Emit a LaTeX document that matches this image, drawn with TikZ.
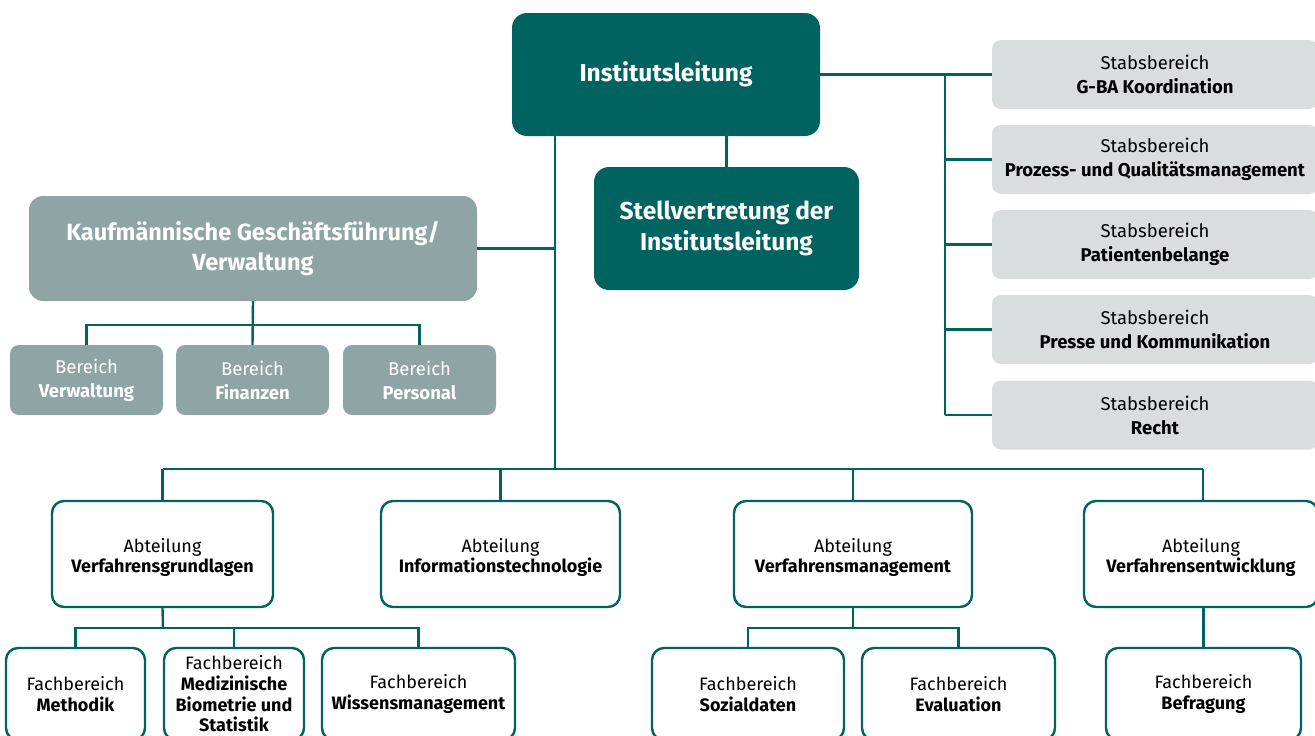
\documentclass[tikz,border=0pt]{standalone}
\usepackage{fontspec}
\setmainfont{Fira Sans}
\definecolor{tealA}{HTML}{00635F}
\definecolor{grayA}{HTML}{8FA4A5}
\definecolor{grayB}{HTML}{D9DDDD}
\tikzset{
  conn/.style={draw=tealA, line width=2.4pt},
  darkbox/.style={fill=tealA, text=white, rounded corners=15pt, align=center, inner sep=0pt,
    font=\bfseries\fontsize{24.5}{31}\selectfont},
  midbox/.style={fill=grayA, text=white, rounded corners=14pt, align=center, inner sep=0pt,
    font=\bfseries\fontsize{23.5}{30}\selectfont},
  smallgray/.style={fill=grayA, text=white, rounded corners=9pt, align=center, inner sep=0pt,
    font=\fontsize{18.5}{24}\selectfont, minimum width=153pt, minimum height=70pt},
  stabbox/.style={fill=grayB, text=black, rounded corners=9pt, align=center, inner sep=0pt,
    font=\fontsize{18.5}{24}\selectfont, minimum width=326pt, minimum height=69pt},
  whitebox/.style={fill=white, draw=tealA, line width=2.4pt, text=black, rounded corners=12pt,
    align=center, inner sep=0pt, font=\fontsize{18}{20.7}\selectfont},
}
\newcommand{\lowstrut}{\rule{0pt}{21pt}}
\begin{document}
\begin{tikzpicture}[x=1pt,y=-1pt]
\useasboundingbox (0,0) rectangle (1315,736);
\clip (0,0) rectangle (1315,736);
% top
\node[darkbox, minimum width=308pt, minimum height=123pt] (inst) at (666,74.5) {Institutsleitung};
\node[darkbox, minimum width=265pt, minimum height=123pt] (stv) at (726.5,228.5) {Stellvertretung der\\Institutsleitung};
\node[midbox, minimum width=448pt, minimum height=105pt] (kfm) at (253,248.5) {Kaufmännische Geschäftsführung/\\Verwaltung};
% Bereiche
\node[smallgray] (bv) at (86.5,380) {Bereich\\\textbf{Verwaltung}};
\node[smallgray] (bf) at (252.5,380) {Bereich\\\textbf{Finanzen}};
\node[smallgray] (bp) at (419.5,380) {Bereich\\\textbf{Personal}};
% Stabsbereiche
\node[stabbox] (s1) at (1155,74.5) {Stabsbereich\\\textbf{G-BA Koordination}};
\node[stabbox] (s2) at (1155,159.5) {Stabsbereich\\\textbf{Prozess- und Qualitätsmanagement}};
\node[stabbox] (s3) at (1155,244.5) {Stabsbereich\\\textbf{Patientenbelange}};
\node[stabbox] (s4) at (1155,329.5) {Stabsbereich\\\textbf{Presse und Kommunikation}};
\node[stabbox] (s5) at (1155,415) {Stabsbereich\\\textbf{Recht}};
% Abteilungen
\node[whitebox, minimum width=221pt, minimum height=106pt] (a1) at (162.5,554) {\lowstrut Abteilung\\\textbf{Verfahrensgrundlagen}};
\node[whitebox, minimum width=239pt, minimum height=106pt] (a2) at (500.5,554) {\lowstrut Abteilung\\\textbf{Informationstechnologie}};
\node[whitebox, minimum width=238pt, minimum height=106pt] (a3) at (853,554) {\lowstrut Abteilung\\\textbf{Verfahrensmanagement}};
\node[whitebox, minimum width=234pt, minimum height=106pt] (a4) at (1201,554) {\lowstrut Abteilung\\\textbf{Verfahrensentwicklung}};
% Fachbereiche
\node[whitebox, minimum width=139pt, minimum height=92pt] (f1) at (75.5,694) {Fachbereich\\\textbf{Methodik}};
\node[whitebox, minimum width=140pt, minimum height=92pt] (f2) at (234,694) {Fachbereich\\\textbf{Medizinische}\\\textbf{Biometrie und}\\\textbf{Statistik}};
\node[whitebox, minimum width=193pt, minimum height=92pt] (f3) at (418.5,694) {Fachbereich\\\textbf{Wissensmanagement}};
\node[whitebox, minimum width=192pt, minimum height=92pt] (f4) at (748,694) {Fachbereich\\\textbf{Sozialdaten}};
\node[whitebox, minimum width=193pt, minimum height=92pt] (f5) at (958.5,694) {Fachbereich\\\textbf{Evaluation}};
\node[whitebox, minimum width=195pt, minimum height=92pt] (f6) at (1203.5,694) {Fachbereich\\\textbf{Befragung}};
% junction coordinates
\coordinate (mainbus) at (555,469);
\coordinate (stabbus) at (945,74.5);
\coordinate (kbus) at (253,325);
\coordinate (a1bus) at (163,628);
\coordinate (a3bus) at (853,628);
\coordinate (a4top) at (1203,501);
% connectors
\draw[conn] (inst.south -| mainbus) -- (mainbus);
\draw[conn] (kfm.east) -- (kfm.east -| mainbus);
\draw[conn] (inst.south -| stv.north) -- (stv.north);
\draw[conn] (a1.north |- mainbus) -- (a4top |- mainbus);
\draw[conn] (a1.north |- mainbus) -- (a1.north);
\draw[conn] (a2.north |- mainbus) -- (a2.north);
\draw[conn] (a3.north |- mainbus) -- (a3.north);
\draw[conn] (a4top |- mainbus) -- (a4top);
% Stabs
\draw[conn] (inst.east) -- (s1.west);
\draw[conn] (stabbus) -- (stabbus |- s5.west);
\draw[conn] (stabbus |- s2.west) -- (s2.west);
\draw[conn] (stabbus |- s3.west) -- (s3.west);
\draw[conn] (stabbus |- s4.west) -- (s4.west);
\draw[conn] (stabbus |- s5.west) -- (s5.west);
% Kaufm -> Bereiche
\draw[conn] (kfm.south) -- (bf.north);
\draw[conn] (bv.north) -- (bv.north |- kbus) -- (bp.north |- kbus) -- (bp.north);
% a1 -> Fachbereiche
\draw[conn] (a1.south) -- (a1bus);
\draw[conn] (f1.north) -- (f1.north |- a1bus) -- (f3.north |- a1bus) -- (f3.north);
\draw[conn] (f2.north |- a1bus) -- (f2.north);
% a3 -> Fachbereiche
\draw[conn] (a3.south) -- (a3bus);
\draw[conn] (f4.north) -- (f4.north |- a3bus) -- (f5.north |- a3bus) -- (f5.north);
% a4 -> f6
\draw[conn] (a4.south -| f6.north) -- (f6.north);
\end{tikzpicture}
\end{document}
